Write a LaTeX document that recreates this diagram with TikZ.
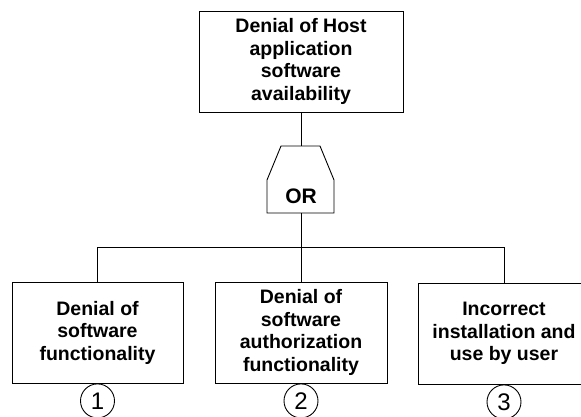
\documentclass[tikz,border=0pt]{standalone}
\usepackage{fontspec}
\setmainfont{Liberation Sans}
\begin{document}
\begin{tikzpicture}[x=1pt,y=-1pt,line width=0.9pt,
  event/.style={draw,rectangle,minimum height=101pt,inner sep=0pt,align=center,
    font=\bfseries\fontsize{19.5}{22.5}\selectfont},
  refnum/.style={draw,circle,minimum size=34pt,inner sep=0pt,
    font=\fontsize{24}{24}\selectfont}]
  \clip (0,0) rectangle (581,416);

  % top event
  \node[event,minimum width=204pt] (top) at (301,61.5)
    {Denial of Host\\application\\software\\availability};

  % OR gate
  \coordinate (gtop) at (301,146);
  \coordinate (gbot) at (301,213);
  \draw (281,146) -- (320,146) -- (334,180) -- (334,213)
        -- (267,213) -- (267,180) -- cycle;
  \node[font=\bfseries\fontsize{21}{24}\selectfont] (or) at (301,196) {OR};

  % basic events
  \node[event,minimum width=171pt] (e1) at (97.5,332.5)
    {Denial of\\software\\functionality};
  \node[event,minimum width=172pt] (e2) at (301,332.5)
    {Denial of\\software\\authorization\\functionality};
  \node[event,minimum width=172pt] (e3) at (504,333.5)
    {Incorrect\\installation and\\use by user};

  % connectors
  \draw (top.south) -- (gtop);
  \draw (gbot) -- (e2.north);
  \draw (e1.north) -- ++(0,-34) -| (e3.north);

  % reference numbers
  \node[refnum,anchor=north] (n1) at (e1.south) {1};
  \node[refnum,anchor=north] (n2) at (e2.south) {2};
  \node[refnum,anchor=north] (n3) at (e3.south) {3};
\end{tikzpicture}
\end{document}
